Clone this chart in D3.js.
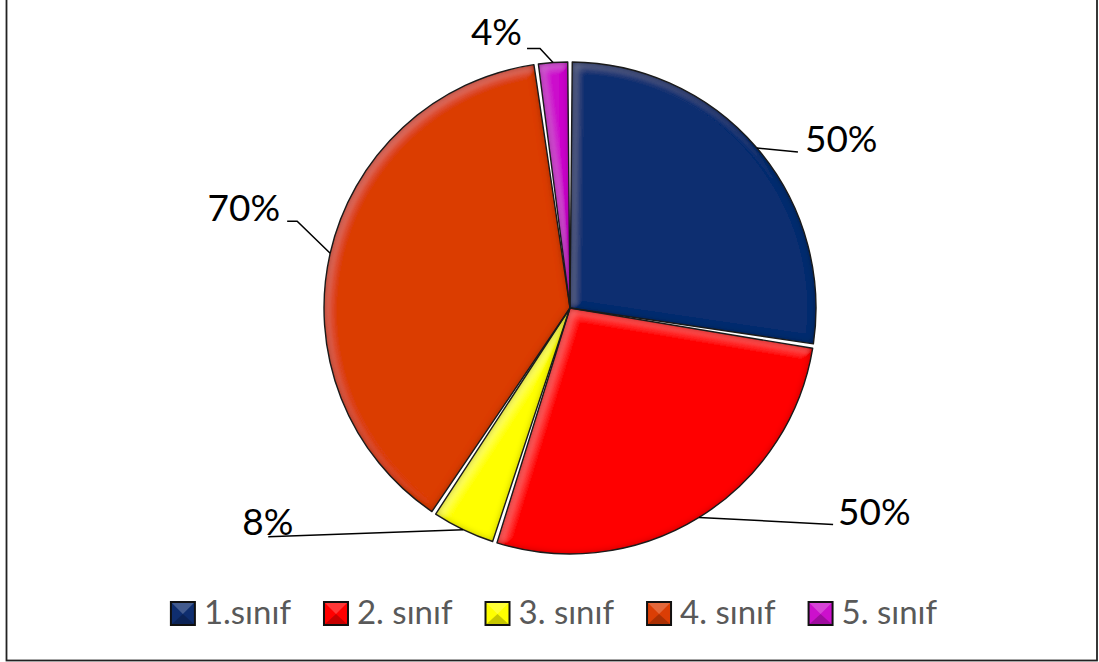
<!DOCTYPE html>
<html>
<head>
<meta charset="utf-8">
<script src="https://cdn.jsdelivr.net/npm/d3@7"></script>
<style>
  body { margin: 0; background: #fff; }
  svg { display: block; }
</style>
</head>
<body>
<script>
// chart data
var categories = ["1.sınıf", "2. sınıf", "3. sınıf", "4. sınıf", "5. sınıf"];
var values = [50, 50, 8, 70, 4];
var valueLabels = ["50%", "50%", "8%", "70%", "4%"];
var colors = ["#0f2e6f", "#ff0000", "#ffff00", "#db3e05", "#cc10cc"];

// leader line layout, offsets from the slice's outer mid point
var leaders = [
  {elbow: null, end: [41, 4], text: [7, 0], anchor: "start"},
  {elbow: null, end: [134, 7], text: [5, 1], anchor: "start"},
  {elbow: null, end: [-195, 7], text: [-26, -2], anchor: "start"},
  {elbow: [-33, -32], end: [-43, -32], text: [-7, 0], anchor: "end"},
  {elbow: [-13, -14], end: [-26, -14], text: [-5, -4], anchor: "end"}
];

var width = 1099, height = 662,
    cx = 570, cy = 308, radius = 246;

var svg = d3.select("body").append("svg")
  .attr("width", width)
  .attr("height", height);

var defs = svg.append("defs");

// soft inner edge shading to mimic the bevel
var bevel = defs.append("filter").attr("id", "bevel")
  .attr("x", "-5%").attr("y", "-5%").attr("width", "110%").attr("height", "110%");
bevel.append("feGaussianBlur").attr("in", "SourceAlpha").attr("stdDeviation", 3.5).attr("result", "blur");
bevel.append("feComposite").attr("in", "SourceAlpha").attr("in2", "blur")
  .attr("operator", "arithmetic").attr("k2", 1).attr("k3", -1).attr("result", "edge");
bevel.append("feGaussianBlur").attr("in", "SourceAlpha").attr("stdDeviation", 5).attr("result", "blur2");
bevel.append("feOffset").attr("in", "blur2").attr("dx", 3).attr("dy", 3).attr("result", "blurOff");
bevel.append("feComposite").attr("in", "SourceAlpha").attr("in2", "blurOff")
  .attr("operator", "arithmetic").attr("k2", 1).attr("k3", -1).attr("result", "hiEdge");
bevel.append("feComposite").attr("in", "hiEdge").attr("in2", "edge")
  .attr("operator", "arithmetic").attr("k2", 1).attr("k3", -1).attr("result", "hiOnly");
bevel.append("feFlood").attr("flood-color", "#000").attr("flood-opacity", 0.6);
bevel.append("feComposite").attr("in2", "edge").attr("operator", "in").attr("result", "shade");
bevel.append("feFlood").attr("flood-color", "#fff").attr("flood-opacity", 0.25);
bevel.append("feComposite").attr("in2", "hiOnly").attr("operator", "in").attr("result", "light");
var merge = bevel.append("feMerge");
merge.append("feMergeNode").attr("in", "SourceGraphic");
merge.append("feMergeNode").attr("in", "light");
merge.append("feMergeNode").attr("in", "shade");

// outer frame
svg.append("rect")
  .attr("x", 6.5).attr("y", -5)
  .attr("width", 1090.5).attr("height", 665.5)
  .attr("fill", "none")
  .attr("stroke", "#222")
  .attr("stroke-width", 1.8);

var pie = d3.pie().sort(null).value(function(d) { return d; });
var arcs = pie(values);

var arc = d3.arc()
  .innerRadius(0)
  .outerRadius(radius)
  .padAngle(4.5 / radius)
  .padRadius(radius);

var pieG = svg.append("g").attr("transform", "translate(" + cx + "," + cy + ")");

pieG.selectAll("path.slice")
  .data(arcs)
  .enter().append("path")
  .attr("class", "slice")
  .attr("d", arc)
  .attr("fill", function(d, i) { return colors[i]; })
  .attr("filter", "url(#bevel)");

pieG.selectAll("path.outline")
  .data(arcs)
  .enter().append("path")
  .attr("class", "outline")
  .attr("d", arc)
  .attr("fill", "none")
  .attr("stroke", "#1a1a1a")
  .attr("stroke-width", 1.4)
  .attr("stroke-linejoin", "round");

// leader lines and labels
arcs.forEach(function(d, i) {
  var a = (d.startAngle + d.endAngle) / 2;
  var p0 = [cx + radius * Math.sin(a), cy - radius * Math.cos(a)];
  var L = leaders[i];
  var pts = [p0];
  if (L.elbow) pts.push([p0[0] + L.elbow[0], p0[1] + L.elbow[1]]);
  var pe = [p0[0] + L.end[0], p0[1] + L.end[1]];
  pts.push(pe);
  svg.append("path")
    .attr("d", d3.line()(pts))
    .attr("fill", "none")
    .attr("stroke", "#000")
    .attr("stroke-width", 1.5);
  svg.append("text")
    .attr("x", pe[0] + L.text[0])
    .attr("y", pe[1] + L.text[1])
    .attr("text-anchor", L.anchor)
    .attr("font-family", "Lato, 'Open Sans', sans-serif")
    .attr("font-size", 37)
    .attr("fill", "#000")
    .text(valueLabels[i]);
});

// legend
var legend = svg.append("g");
var swatch = 24, gapText = 9, gapItem = 33, legendY = 602;
var items = legend.selectAll("g.item")
  .data(categories)
  .enter().append("g")
  .attr("class", "item");

items.append("text")
  .attr("class", "ltext")
  .attr("x", swatch + gapText)
  .attr("y", 22)
  .attr("font-family", "Lato, 'Open Sans', sans-serif")
  .attr("font-size", 33)
  .attr("fill", "#595959")
  .text(function(d) { return d; });

items.append("rect")
  .attr("x", 0).attr("y", 0)
  .attr("width", swatch).attr("height", swatch - 1)
  .attr("fill", function(d, i) { return colors[i]; })
  .attr("stroke", "#111")
  .attr("stroke-width", 2);

// pyramid shading on the swatches
items.append("path")
  .attr("d", "M1,1L" + (swatch - 1) + ",1L" + (swatch / 2) + "," + (swatch / 2) + "Z")
  .attr("fill", "#fff").attr("opacity", 0.22);
items.append("path")
  .attr("d", "M1," + (swatch - 2) + "L" + (swatch - 1) + "," + (swatch - 2) + "L" + (swatch / 2) + "," + (swatch / 2) + "Z")
  .attr("fill", "#000").attr("opacity", 0.22);

var offsets = [], xPos = 0;
items.each(function() {
  var w = d3.select(this).select("text").node().getComputedTextLength();
  offsets.push(xPos);
  xPos += swatch + gapText + w + gapItem;
});
var totalW = xPos - gapItem;
var startX = 554 - totalW / 2;
items.attr("transform", function(d, i) {
  return "translate(" + (startX + offsets[i]) + "," + legendY + ")";
});
</script>
</body>
</html>
